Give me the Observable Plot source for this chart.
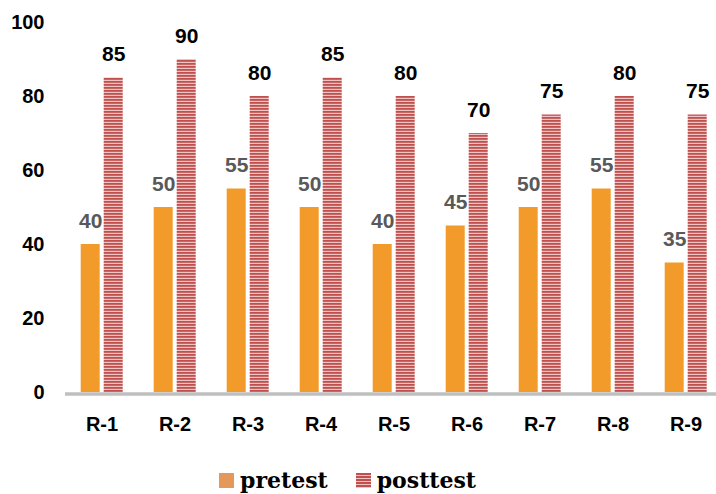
<!DOCTYPE html>
<html>
<head>
<meta charset="utf-8">
<script src="https://cdn.jsdelivr.net/npm/d3@7"></script>
<script src="https://cdn.jsdelivr.net/npm/@observablehq/plot@0.6"></script>
<style>
  html, body { margin: 0; padding: 0; background: #fff; }
  #chart { width: 716px; }
  .legend { display: flex; justify-content: flex-start; align-items: center; height: 44px; padding-top: 8px; font-family: "DejaVu Serif", serif; font-weight: bold; font-size: 22px; color: #000; }
  .legend .item { display: flex; align-items: center; }
  .legend .sw { width: 15px; height: 15px; display: inline-block; margin-right: 6px; }
</style>
</head>
<body>
<div id="chart"></div>
<script>
const categories = ["R-1", "R-2", "R-3", "R-4", "R-5", "R-6", "R-7", "R-8", "R-9"];
const seriesNames = ["pretest", "posttest"];
const pretest  = [40, 50, 55, 50, 40, 45, 50, 55, 35];
const posttest = [85, 90, 80, 85, 80, 70, 75, 80, 75];
const yTicks = [0, 20, 40, 60, 80, 100];

const data = categories.flatMap((c, i) => [
  {cat: c, series: "pretest", value: pretest[i]},
  {cat: c, series: "posttest", value: posttest[i]}
]);

const orange = "#F29B2A";
const plot = Plot.plot({
  width: 716,
  height: 450,
  marginLeft: 63.3,
  marginRight: -8,
  marginTop: 22,
  marginBottom: 58,
  style: {fontFamily: "'Liberation Sans', Arial, sans-serif", fontSize: "20px", fontWeight: "bold", color: "#000", background: "#fff"},
  fx: {domain: categories, padding: 0, label: null, tickSize: 0, tickPadding: 24, axis: "bottom"},
  x: {domain: seriesNames, paddingInner: 0.176, paddingOuter: 0.66, axis: null},
  y: {domain: [0, 100], ticks: yTicks, tickSize: 0, tickPadding: 21, label: null, tickFormat: d => d},
  color: {domain: seriesNames, range: [orange, "url(#stripes)"]},
  marks: [
    Plot.barY(data, {fx: "cat", x: "series", y: "value", fill: "series"}),
    Plot.ruleY([0], {stroke: "#BFBFBF", strokeWidth: 3.5, dy: 1.5}),
    Plot.text(data, {fx: "cat", x: "series", y: "value", text: d => String(d.value), lineAnchor: "bottom", dy: -17, fontSize: 21, fontWeight: "bold", fill: d => d.series === "pretest" ? "#595959" : "#000"})
  ]
});

// stripe pattern definition
const ns = "http://www.w3.org/2000/svg";
const defs = document.createElementNS(ns, "defs");
defs.innerHTML = `<pattern id="stripes" patternUnits="userSpaceOnUse" width="6" height="3">
  <rect x="0" y="0" width="6" height="3" fill="#EDC4C3"></rect>
  <rect x="0" y="0" width="6" height="1.8" fill="#C0504D"></rect>
</pattern>`;
plot.insertBefore(defs, plot.firstChild);
document.getElementById("chart").appendChild(plot);

// legend
const legend = document.createElement("div");
legend.className = "legend";
legend.innerHTML = `
  <div class="item" style="margin-left:219px"><span class="sw" style="background:#E4995B"></span>pretest</div>
  <div class="item" style="margin-left:28px"><span class="sw" style="background:repeating-linear-gradient(#C0504D 0 1.8px, #EDC4C3 1.8px 3px)"></span>posttest</div>`;
document.getElementById("chart").appendChild(legend);
</script>
</body>
</html>
